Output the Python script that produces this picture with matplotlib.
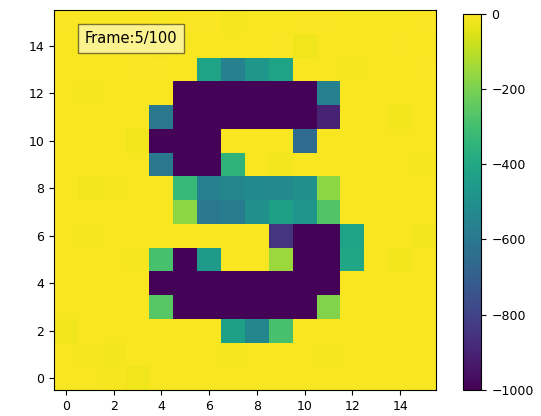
import numpy as np
import matplotlib
matplotlib.use("Agg")
import matplotlib.pyplot as plt

# pixel values per row, row 0 is the bottom of the image
rows = {
    15: [-5, -8, -10, -6, -8, -7, -5, -12, -8, -10, -7, -6, -9, -8, -10, -5],
    14: [-8, -10, -6, -9, -12, -8, -9, -10, -8, -6, -20, -9, -8, -10, -6, -8],
    13: [-10, -8, -9, -7, -6, -10, -420, -560, -470, -420, -9, -8, -12, -8, -9, -6],
    12: [-8, -12, -9, -10, -8, -990, -990, -990, -990, -990, -990, -560, -8, -9, -10, -8],
    11: [-9, -8, -10, -8, -600, -990, -990, -990, -990, -990, -990, -900, -10, -8, -22, -9],
    10: [-8, -9, -8, -20, -990, -990, -990, -8, -10, -9, -650, -8, -9, -10, -8, -8],
    9:  [-10, -8, -9, -8, -600, -990, -990, -350, -10, -18, -9, -8, -10, -8, -9, -12],
    8:  [-8, -18, -15, -9, -8, -330, -560, -540, -520, -530, -500, -170, -8, -9, -8, -10],
    7:  [-9, -8, -10, -8, -9, -170, -600, -580, -500, -430, -480, -270, -9, -8, -10, -8],
    6:  [-8, -15, -8, -9, -10, -8, -9, -8, -10, -850, -990, -990, -420, -9, -8, -18],
    5:  [-10, -8, -9, -12, -290, -990, -450, -8, -9, -150, -990, -990, -410, -10, -22, -9],
    4:  [-8, -9, -10, -8, -990, -990, -990, -990, -990, -990, -990, -990, -9, -8, -10, -8],
    3:  [-9, -8, -8, -10, -260, -990, -990, -990, -990, -990, -990, -190, -8, -9, -8, -10],
    2:  [-20, -9, -8, -10, -8, -9, -8, -430, -540, -290, -9, -8, -10, -8, -9, -8],
    1:  [-8, -15, -18, -9, -8, -10, -9, -15, -8, -9, -8, -15, -9, -10, -8, -9],
    0:  [-10, -9, -12, -20, -9, -8, -10, -8, -9, -10, -8, -9, -8, -9, -10, -8],
}
grid = np.array([rows[r] for r in range(16)], dtype=float)

frame_label = "Frame:5/100"
cbar_ticks = [0, -200, -400, -600, -800, -1000]

plt.rcParams["font.size"] = 9

fig = plt.figure(figsize=(5.41, 4.16), dpi=100)
ax = fig.add_axes([0.0998, 0.0625, 0.706, 0.913])
cax = fig.add_axes([0.856, 0.0625, 0.034, 0.905])

im = ax.imshow(grid, cmap="viridis", origin="lower", vmin=-1000, vmax=0,
               interpolation="nearest", aspect="auto")
ax.set_xticks(range(0, 16, 2))
ax.set_yticks(range(0, 16, 2))

ax.text(0.08, 0.945, frame_label, transform=ax.transAxes, fontsize=10.5,
        va="top", ha="left",
        bbox=dict(facecolor="white", alpha=0.5, pad=5))

cb = fig.colorbar(im, cax=cax)
cb.set_ticks(cbar_ticks)

fig.savefig("out.png", dpi=100)
